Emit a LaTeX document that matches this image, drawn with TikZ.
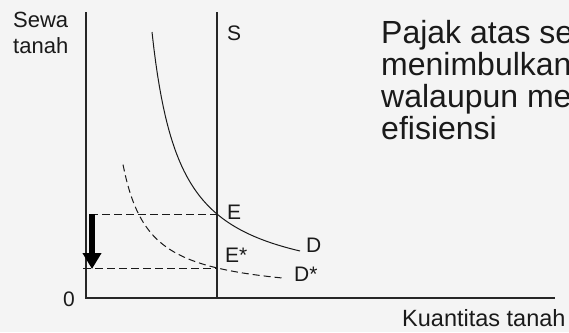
\documentclass[tikz,border=0pt]{standalone}
\usepackage{fontspec}
\setmainfont{Liberation Sans}
\usetikzlibrary{arrows.meta}
\definecolor{bgc}{HTML}{F4F4F4}
\definecolor{ink}{HTML}{1A1A1A}
\begin{document}
\begin{tikzpicture}[x=1pt,y=-1pt,
  lbl/.style={inner sep=0pt, anchor=base west, text=ink, font=\fontsize{21}{25}\selectfont},
  axislbl/.style={lbl, font=\fontsize{22}{26}\selectfont},
  body/.style={inner sep=0pt, anchor=base west, text=ink, font=\fontsize{32}{32}\selectfont},
  axisline/.style={line width=1.2pt, draw=black!85},
  dashline/.style={line width=1pt, draw=ink, dash pattern=on 8pt off 4pt},
  curve/.style={line width=1pt, draw=ink},
  dropArrow/.style={line width=6pt, draw=black, -{Triangle[width=18pt,length=16pt]}}]

\fill[bgc] (0,0) rectangle (569,332);
\useasboundingbox (0,0) rectangle (569,332);

\coordinate (O) at (86,298);
\coordinate (Ytop) at (86,12);
\coordinate (Xend) at (555,298);
\coordinate (Stop) at (217,12);
\coordinate (Sbot) at (217,298);
\coordinate (E) at (217,214);
\coordinate (Es) at (217,268);
\coordinate (L1) at (90,214);
\coordinate (L2) at (83,268);
\coordinate (Atop) at (92,214);
\coordinate (Atip) at (92,269);

\draw[axisline] (Ytop) -- (O) -- (Xend);
\draw[axisline] (Stop) -- (Sbot);
\draw[dashline] (L1) -- (E);
\draw[dashline] (L2) -- (Es);
\draw[curve] plot[domain=152:300,samples=80] (\x,{292.4-7290/(\x-124)});
\draw[curve, dash pattern=on 7pt off 4pt] plot[domain=123:283,samples=80] (\x,{296.5-3430/(\x-97)});
\draw[dropArrow] (Atop) -- (Atip);

\node[axislbl] (sewa) at (13,27) {Sewa};
\node[axislbl] (tanah) at (13,53) {tanah};
\node[lbl] (Slab) at (227,40) {S};
\node[lbl] (Elab) at (227,219) {E};
\node[lbl] (Eslab) at (225,262) {E*};
\node[lbl] (Dlab) at (306,252) {D};
\node[lbl] (Dslab) at (294,281) {D*};
\node[lbl] (zero) at (63,306) {0};
\node[lbl, font=\fontsize{23.5}{28}\selectfont] (qty) at (402,326) {Kuantitas tanah};

\node[body] (p1) at (381,43) {Pajak atas se};
\node[body] (p2) at (381,75) {menimbulkan};
\node[body] (p3) at (381,107) {walaupun me};
\node[body] (p4) at (381,139) {efisiensi};
\end{tikzpicture}
\end{document}
